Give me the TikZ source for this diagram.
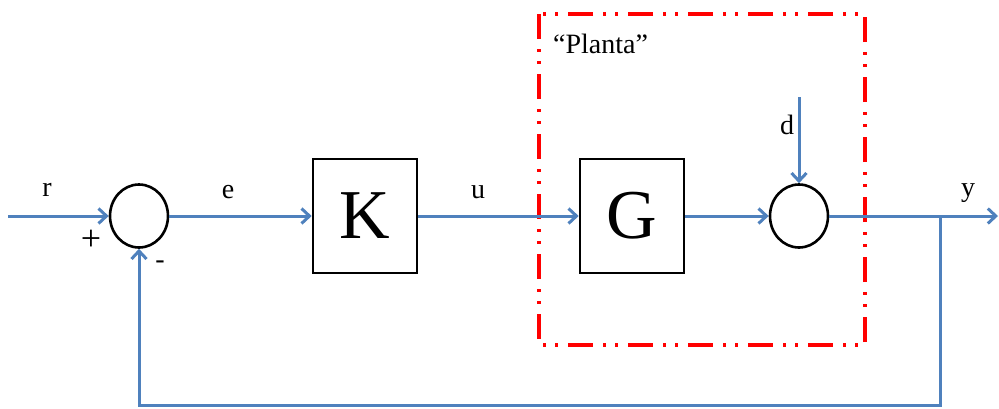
\documentclass[tikz,border=0pt]{standalone}
\usepackage{fontspec}
\setmainfont{Liberation Serif}
\usetikzlibrary{arrows.meta,shapes.geometric}
\definecolor{wireblue}{RGB}{79,129,189}
\definecolor{plantred}{RGB}{255,0,0}
\tikzset{
  sumnode/.style={draw=black,line width=2.6pt,ellipse,minimum width=58pt,minimum height=63pt,inner sep=0pt},
  blockbox/.style={draw=black,line width=2.6pt,minimum width=104pt,minimum height=114pt,font=\fontsize{70}{70}\selectfont},
  wire/.style={draw=wireblue,line width=3pt},
  sig/.style={wire,-{Straight Barb[length=8pt,width=15pt,line width=3pt]}},
  lbl/.style={font=\fontsize{28}{28}\selectfont,inner sep=0pt},
  planta/.style={draw=plantred,line width=3.2pt,dash pattern=on 25pt off 10pt on 3pt off 9pt on 3pt off 10pt}
}
\begin{document}
\begin{tikzpicture}[x=1pt,y=-1pt]
\useasboundingbox (0,0) rectangle (999,408);
\draw[planta] (539,14) rectangle (865,345);
\node[lbl,anchor=west] (pl) at (553,44) {“Planta”};
\coordinate (rin) at (8,216);
\node[sumnode] (s1) at (139,216) {};
\node[blockbox] (K) at (365,216) {K};
\node[blockbox] (G) at (632,216) {G};
\node[sumnode] (s2) at (799,216) {};
\coordinate (din) at (799,97);
\coordinate (yout) at (998,216);
\coordinate (br) at (940,216);
\coordinate (bb) at (940,405);
\coordinate (lb) at (139,405);
\draw[sig] (rin) -- (s1.west);
\draw[sig] (s1.east) -- (K.west);
\draw[sig] (K.east) -- (G.west);
\draw[sig] (G.east) -- (s2.west);
\draw[sig] (din) -- (s2.north);
\draw[sig] (s2.east) -- (yout);
\draw[sig] (br) -- (bb) -- (lb) -- (s1.south);
\node[lbl] (r) at (47,190) {r};
\node[lbl,font=\fontsize{36}{36}\selectfont] (plus) at (91,240) {+};
\node[lbl] (minus) at (160,265) {-};
\node[lbl] (e) at (228,192) {e};
\node[lbl] (u) at (478,192) {u};
\node[lbl] (d) at (787,125) {d};
\node[lbl] (y) at (968,193) {y};
\end{tikzpicture}
\end{document}
